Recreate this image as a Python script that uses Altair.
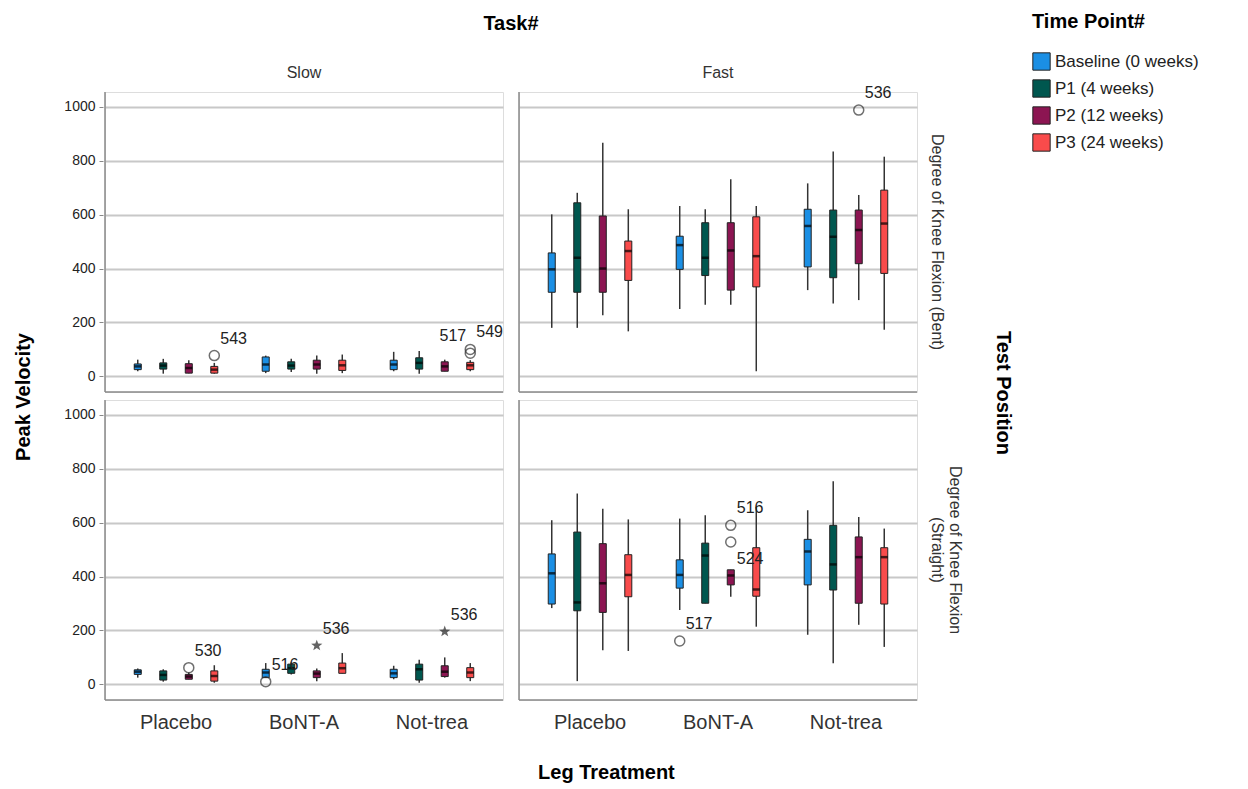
import altair as alt
import pandas as pd

treatments = ["Placebo", "BoNT-A", "Not-trea"]
time_points = ["Baseline (0 weeks)", "P1 (4 weeks)", "P2 (12 weeks)", "P3 (24 weeks)"]
tasks = ["Slow", "Fast"]
positions = ["Degree of Knee Flexion (Bent)", "Degree of Knee Flexion (Straight)"]
colors = ["#1b8fe4", "#00574f", "#8c1552", "#f94b4b"]

# 12 boxes per panel: treatment-major, time-point-minor
slow_bent_low = [19, 10, 12, 10, 12, 16, 10, 12, 19, 10, 19, 19]
slow_bent_q1 = [25, 27, 12, 12, 19, 27, 27, 22, 25, 27, 19, 25]
slow_bent_med = [37, 40, 31, 25, 44, 40, 44, 41, 44, 50, 37, 41]
slow_bent_q3 = [46, 50, 47, 37, 72, 54, 60, 60, 60, 69, 54, 52]
slow_bent_high = [62, 65, 60, 50, 77, 65, 77, 81, 91, 94, 62, 60]

fast_bent_low = [180, 180, 227, 167, 250, 266, 266, 19, 320, 270, 283, 173]
fast_bent_q1 = [312, 312, 312, 356, 397, 374, 320, 332, 406, 366, 418, 382]
fast_bent_med = [397, 440, 400, 465, 487, 440, 467, 446, 558, 518, 543, 567]
fast_bent_q3 = [458, 644, 595, 502, 520, 570, 570, 592, 620, 617, 617, 691]
fast_bent_high = [601, 681, 867, 620, 632, 620, 731, 632, 716, 834, 673, 815]

slow_straight_low = [25, 10, 19, 6, 25, 37, 12, 41, 19, 6, 25, 12]
slow_straight_q1 = [37, 16, 19, 12, 25, 41, 25, 41, 25, 16, 29, 25]
slow_straight_med = [47, 35, 29, 31, 44, 60, 40, 60, 41, 56, 47, 44]
slow_straight_q3 = [54, 50, 37, 50, 56, 75, 50, 79, 56, 75, 69, 62]
slow_straight_high = [59, 56, 44, 71, 79, 81, 59, 116, 69, 91, 100, 79]

fast_straight_low = [283, 12, 127, 124, 276, 301, 325, 214, 184, 78, 221, 139]
fast_straight_q1 = [298, 273, 267, 325, 357, 301, 369, 327, 369, 350, 301, 298]
fast_straight_med = [412, 304, 375, 406, 406, 478, 404, 352, 493, 445, 472, 472]
fast_straight_q3 = [484, 565, 522, 481, 462, 524, 425, 507, 538, 590, 547, 507]
fast_straight_high = [609, 708, 652, 612, 615, 627, 425, 658, 646, 754, 621, 578]

# outliers
out_task = ["Slow", "Slow", "Slow", "Fast", "Slow", "Slow", "Slow", "Slow", "Fast", "Fast", "Fast"]
out_pos = ["Bent", "Bent", "Bent", "Bent", "Straight", "Straight", "Straight", "Straight", "Straight", "Straight", "Straight"]
out_treat = ["Placebo", "Not-trea", "Not-trea", "Not-trea", "Placebo", "BoNT-A", "BoNT-A", "Not-trea", "BoNT-A", "BoNT-A", "BoNT-A"]
out_time = [3, 3, 3, 2, 2, 0, 2, 2, 0, 2, 2]
out_value = [77, 86, 100, 988, 62, 10, 144, 196, 161, 590, 528]
out_label = ["543", "517", "549", "536", "530", "516", "536", "536", "517", "516", "524"]
out_kind = ["circle", "circle", "circle", "circle", "circle", "circle", "star", "star", "circle", "circle", "circle"]

panels = {
    ("Slow", positions[0]): (slow_bent_low, slow_bent_q1, slow_bent_med, slow_bent_q3, slow_bent_high),
    ("Fast", positions[0]): (fast_bent_low, fast_bent_q1, fast_bent_med, fast_bent_q3, fast_bent_high),
    ("Slow", positions[1]): (slow_straight_low, slow_straight_q1, slow_straight_med, slow_straight_q3, slow_straight_high),
    ("Fast", positions[1]): (fast_straight_low, fast_straight_q1, fast_straight_med, fast_straight_q3, fast_straight_high),
}

rows = []
for (task, pos), (lo, q1, md, q3, hi) in panels.items():
    for i in range(12):
        rows.append(dict(kind="box", task=task, position=pos,
                         treatment=treatments[i // 4], time=time_points[i % 4],
                         low=lo[i], q1=q1[i], med=md[i], q3=q3[i], high=hi[i]))
pos_map = {"Bent": positions[0], "Straight": positions[1]}
for t, p, tr, tm, v, lb, k in zip(out_task, out_pos, out_treat, out_time, out_value, out_label, out_kind):
    rows.append(dict(kind=k, task=t, position=pos_map[p], treatment=tr,
                     time=time_points[tm], value=v, label=lb))
df = pd.DataFrame(rows)

W, H = 398, 300
FONT = "Liberation Sans"

x_enc = alt.X("treatment:N", sort=treatments,
              scale=alt.Scale(paddingInner=0, paddingOuter=0.055),
              axis=alt.Axis(title=None, labelAngle=0, labelFontSize=20,
                            labelColor="#333333", ticks=False, domain=False,
                            labelPadding=10))
xo_enc = alt.XOffset("time:N", sort=time_points,
                     scale=alt.Scale(domain=time_points, paddingInner=0.725, paddingOuter=0.87))
y_scale = alt.Scale(domain=[-58, 1055], nice=False, zero=False)
y_axis = alt.Axis(title=None, values=[0, 200, 400, 600, 800, 1000], format="d",
                  grid=True, gridColor="#c8c8c8", gridWidth=2, domain=False,
                  tickColor="#888888", tickSize=4, labelFontSize=14, labelColor="#222222",
                  labelPadding=4)
color_enc = alt.Color("time:N", sort=time_points,
                      scale=alt.Scale(domain=time_points, range=colors),
                      legend=alt.Legend(title="Time Point#", titleFontSize=20,
                                        titleFontWeight="bold", titleColor="black",
                                        labelFontSize=17, labelColor="#222222",
                                        symbolType="square", symbolSize=300,
                                        symbolStrokeColor="#222222", symbolStrokeWidth=1,
                                        rowPadding=4, titlePadding=20,
                                        orient="none", legendX=927, legendY=-80))

base = alt.Chart()

frame = base.transform_aggregate(n="count()", groupby=["task", "position"])
left_line = frame.mark_rule(color="#888888", strokeWidth=1.5).encode(
    x=alt.value(0), y=alt.value(0), y2=alt.value(H))
bottom_line = frame.mark_rule(color="#888888", strokeWidth=1.5).encode(
    x=alt.value(0), x2=alt.value(W), y=alt.value(H))

boxes = base.transform_filter(alt.datum.kind == "box")
whisk = boxes.mark_rule(color="#333333", strokeWidth=1.5).encode(
    x=x_enc, xOffset=xo_enc,
    y=alt.Y("low:Q", scale=y_scale, axis=y_axis), y2="high:Q")
bars = boxes.mark_bar(stroke="#222222", strokeWidth=1).encode(
    x=x_enc, xOffset=xo_enc, y=alt.Y("q1:Q", scale=y_scale, axis=y_axis), y2="q3:Q",
    color=color_enc)
med = boxes.mark_tick(color="black", size=7, thickness=2.5).encode(
    x=x_enc, xOffset=xo_enc, y=alt.Y("med:Q", scale=y_scale, axis=y_axis))

circ = base.transform_filter(alt.datum.kind == "circle").mark_point(
    shape="circle", filled=False, size=100, color="#333333", strokeWidth=1.5).encode(
    x=x_enc, xOffset=xo_enc, y=alt.Y("value:Q", scale=y_scale, axis=y_axis))
star_path = ("M0,-1L0.24,-0.33L0.95,-0.31L0.39,0.13L0.59,0.81L0,0.41L-0.59,0.81"
             "L-0.39,0.13L-0.95,-0.31L-0.24,-0.33Z")
stars = base.transform_filter(alt.datum.kind == "star").mark_point(
    shape=star_path, filled=True, size=140, color="#222222").encode(
    x=x_enc, xOffset=xo_enc, y=alt.Y("value:Q", scale=y_scale, axis=y_axis))

outs = base.transform_filter(alt.datum.kind != "box")
is_left = (alt.datum.label == "517") & (alt.datum.task == "Slow")
is_below = alt.datum.label == "524"
lab_ur = outs.transform_filter(~is_left & ~is_below).mark_text(
    align="left", baseline="middle", dx=6, dy=-17, fontSize=16, color="#222222").encode(
    x=x_enc, xOffset=xo_enc, y=alt.Y("value:Q", scale=y_scale, axis=y_axis), text="label:N")
lab_ul = outs.transform_filter(is_left).mark_text(
    align="right", baseline="middle", dx=-4, dy=-17, fontSize=16, color="#222222").encode(
    x=x_enc, xOffset=xo_enc, y=alt.Y("value:Q", scale=y_scale, axis=y_axis), text="label:N")
lab_lr = outs.transform_filter(is_below).mark_text(
    align="left", baseline="middle", dx=6, dy=17, fontSize=16, color="#222222").encode(
    x=x_enc, xOffset=xo_enc, y=alt.Y("value:Q", scale=y_scale, axis=y_axis), text="label:N")

layered = alt.layer(whisk, bars, med, circ, stars, lab_ur, lab_ul, lab_lr,
                    left_line, bottom_line, data=df).properties(width=W, height=H)

faceted = layered.facet(
    column=alt.Column("task:N", sort=tasks,
                      header=alt.Header(title="Task#", titleFontSize=20, titleFontWeight="bold",
                                        titleColor="black", titlePadding=21,
                                        labelFontSize=16, labelColor="#333333",
                                        labelPadding=3, titleFont=FONT, labelFont=FONT)),
    row=alt.Row("position:N", sort=positions,
                header=alt.Header(title="Test Position", titleOrient="right", labelOrient="right",
                                  titleAngle=90, labelAngle=90, titleFontSize=20,
                                  titleFontWeight="bold", titleColor="black",
                                  labelFontSize=16, labelColor="#333333", labelPadding=10,
                                  titlePadding=20, titleFont=FONT, labelFont=FONT,
                                  labelExpr="datum.value == 'Degree of Knee Flexion (Straight)' ? ['Degree of Knee Flexion', '(Straight)'] : datum.value")),
    spacing={"row": 4, "column": 12},
    title=alt.TitleParams("Peak Velocity", orient="left", anchor="middle", fontSize=20,
                          fontWeight="bold", color="black", font=FONT, offset=30, dx=-24),
)

chart = alt.vconcat(faceted).properties(
    title=alt.TitleParams("Leg Treatment", orient="bottom", anchor="middle", fontSize=20,
                          fontWeight="bold", color="black", font=FONT, offset=31),
    padding={"top": 4, "left": 5, "right": 5, "bottom": 5},
).configure_view(stroke=None).configure(font=FONT)

chart.save("out.html", embed_options={"renderer": "svg", "actions": False})
